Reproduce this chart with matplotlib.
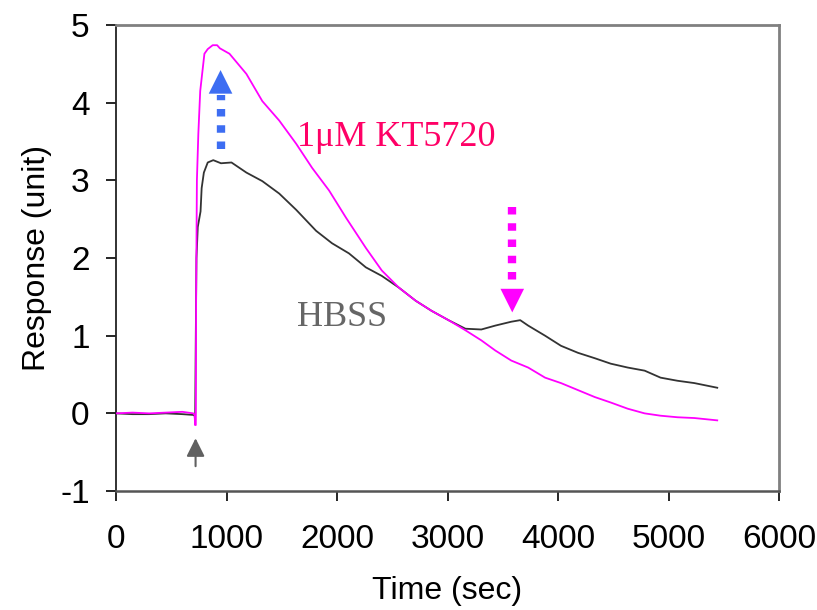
import matplotlib
matplotlib.use('Agg')
import matplotlib.pyplot as plt

# KT5720 trace (sec, response)
kt_time = [0, 150, 300, 450, 600, 700, 712, 715, 722, 725, 732, 745, 762, 800, 830,
           875, 915, 940, 1027, 1180, 1324, 1477, 1631, 1775, 1928, 2081, 2261, 2405,
           2559, 2712, 2856, 3009, 3162, 3306, 3432, 3577, 3730, 3883, 4027, 4180,
           4333, 4477, 4631, 4784, 4928, 5081, 5234, 5441]
kt_resp = [0.0, 0.01, 0.0, 0.01, 0.02, 0.0, -0.02, -0.15, -0.15, 1.5, 3.0, 3.6, 4.15,
           4.63, 4.69, 4.74, 4.74, 4.70, 4.63, 4.37, 4.02, 3.77, 3.47, 3.16, 2.87, 2.52,
           2.13, 1.84, 1.62, 1.45, 1.32, 1.20, 1.07, 0.94, 0.81, 0.68, 0.59, 0.46, 0.39,
           0.30, 0.21, 0.14, 0.06, 0.0, -0.03, -0.05, -0.06, -0.09]

# HBSS trace
hb_time = [0, 150, 300, 450, 600, 700, 712, 716, 722, 728, 740, 765, 775, 795, 830,
           880, 950, 1045, 1180, 1324, 1477, 1631, 1811, 1955, 2108, 2261, 2405, 2559,
           2712, 2856, 3009, 3162, 3306, 3432, 3577, 3658, 3730, 3883, 4027, 4180, 4333,
           4477, 4631, 4784, 4928, 5081, 5234, 5441]
hb_resp = [0.0, -0.01, -0.01, 0.0, -0.01, -0.02, -0.03, -0.1, 1.0, 2.0, 2.4, 2.6, 2.9,
           3.1, 3.23, 3.26, 3.22, 3.23, 3.10, 2.99, 2.83, 2.62, 2.35, 2.19, 2.06, 1.88,
           1.77, 1.62, 1.45, 1.32, 1.20, 1.09, 1.08, 1.13, 1.18, 1.20, 1.13, 1.00, 0.87,
           0.78, 0.71, 0.64, 0.59, 0.55, 0.46, 0.42, 0.39, 0.33]

plt.rcParams['font.family'] = ['Liberation Sans', 'DejaVu Sans']
plt.rcParams['axes.unicode_minus'] = False

fig = plt.figure(figsize=(8.17, 6.1), dpi=100)
ax = fig.add_axes([0.142, 0.195, 0.8115, 0.764])

ax.plot(hb_time, hb_resp, color='#333333', lw=1.3, zorder=3)
ax.plot(kt_time, kt_resp, color='#ff00ff', lw=1.3, zorder=4)

ax.set_xlim(0, 6000)
ax.set_ylim(-1, 5)
ax.set_xticks(range(0, 6001, 1000))
ax.set_yticks(range(-1, 6))

ax.tick_params(axis='both', direction='out', length=7, width=1.2, labelsize=24)
ax.tick_params(axis='x', pad=17)
ax.tick_params(axis='y', pad=12)
for s in ['top', 'right']:
    ax.spines[s].set_color('#808080')
    ax.spines[s].set_linewidth(2)
ax.spines['left'].set_color('#222222')
ax.spines['bottom'].set_color('#555555')
ax.spines['left'].set_linewidth(1.3)
ax.spines['bottom'].set_linewidth(1.8)

ax.set_xlabel('Time (sec)', fontsize=23, labelpad=15)
ax.set_ylabel('Response (unit)', fontsize=23, labelpad=6)

# curve labels
ax.text(1640, 3.44, '1\u03bcM KT5720', color='#ff0066', fontsize=26,
        family=['Liberation Serif', 'DejaVu Serif'])
ax.text(1640, 1.13, 'HBSS', color='#666666', fontsize=26,
        family=['Liberation Serif', 'DejaVu Serif'])

# blue dashed arrow (up)
ax.plot([946, 946], [3.41, 4.1], color='#3d6df2', lw=6, dashes=(0.9, 1.05),
        solid_capstyle='butt', dash_capstyle='butt', zorder=5)
ax.annotate('', xy=(946, 4.42), xytext=(946, 4.12),
            arrowprops=dict(arrowstyle='-|>,head_length=1.0,head_width=0.5',
                            color='#3d6df2', lw=0, mutation_scale=17,
                            shrinkA=0, shrinkB=0), zorder=5)

# magenta dashed arrow (down)
ax.plot([3586, 3586], [2.66, 1.62], color='#ff00ff', lw=6, dashes=(0.9, 1.05),
        solid_capstyle='butt', dash_capstyle='butt', zorder=5)
ax.annotate('', xy=(3586, 1.30), xytext=(3586, 1.60),
            arrowprops=dict(arrowstyle='-|>,head_length=1.0,head_width=0.5',
                            color='#ff00ff', lw=0, mutation_scale=17,
                            shrinkA=0, shrinkB=0), zorder=5)

# small gray arrow marking addition
ax.annotate('', xy=(720, -0.32), xytext=(720, -0.68),
            arrowprops=dict(arrowstyle='-|>,head_length=1.0,head_width=0.5',
                            color='#606060', lw=1.5, mutation_scale=11,
                            shrinkA=0, shrinkB=0), zorder=5)

plt.savefig('out.png', dpi=100)
